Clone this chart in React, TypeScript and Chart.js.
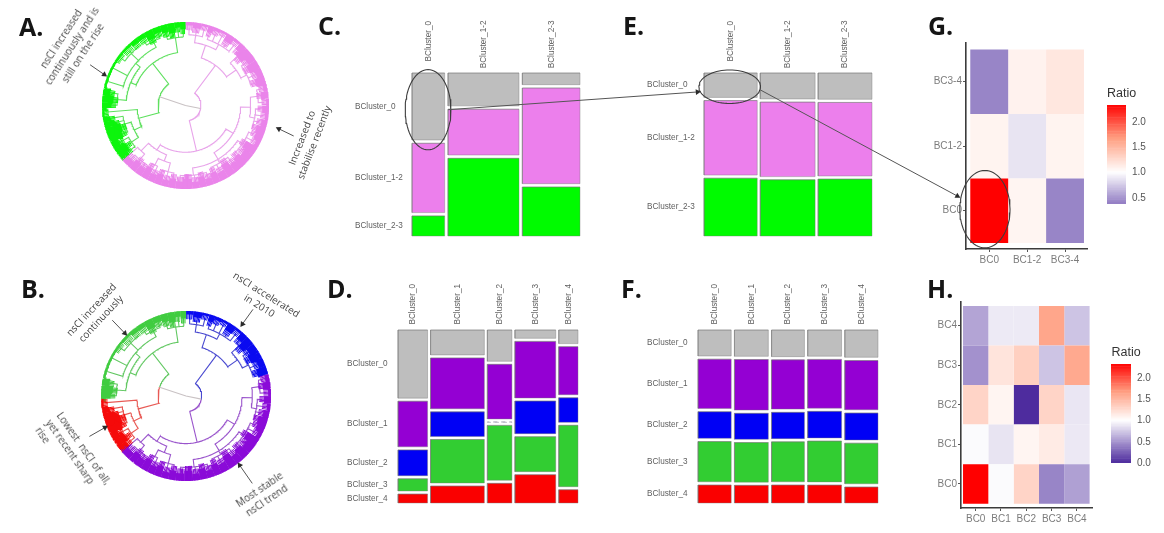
import React, { useEffect, useRef } from "react";
import { Chart, registerables } from "chart.js";

Chart.register(...registerables);

/* ---------- mosaic data (column widths, cell heights per column) ---------- */
const C_COLS = ["   BCluster_0", "BCluster_1-2", "BCluster_2-3"];
const C_ROWS = ["BCluster_0", "BCluster_1-2", "BCluster_2-3"];
const C_WIDTHS = [98, 213, 173];
const C_CELLS = [[200, 207, 60], [99, 138, 234], [35, 287, 147]];

const E_COLS = ["   BCluster_0", "BCluster_1-2", "BCluster_2-3"];
const E_ROWS = ["BCluster_0", "BCluster_1-2", "BCluster_2-3"];
const E_WIDTHS = [160, 165, 162];
const E_CELLS = [[73, 223, 173], [78, 224, 169], [79, 221, 171]];

const D_COLS = ["BCluster_0", "BCluster_1", "BCluster_2", "BCluster_3", "BCluster_4"];
const D_ROWS = ["BCluster_0", "BCluster_1", "BCluster_2", "BCluster_3", "BCluster_4"];
const D_WIDTHS = [89, 162, 74, 123, 58];
const D_CELLS = [
  [206, 138, 78, 37, 27],
  [75, 153, 74, 131, 51],
  [94, 164, 1, 165, 59],
  [25, 170, 98, 105, 85],
  [41, 145, 74, 185, 40],
];

const F_COLS = ["BCluster_0", "BCluster_1", "BCluster_2", "BCluster_3", "BCluster_4"];
const F_ROWS = ["BCluster_0", "BCluster_1", "BCluster_2", "BCluster_3", "BCluster_4"];
const F_WIDTHS = [100, 102, 99, 102, 100];
const F_CELLS = [
  [78, 148, 80, 121, 54],
  [79, 152, 78, 119, 53],
  [80, 148, 79, 120, 54],
  [79, 147, 80, 123, 54],
  [82, 148, 81, 122, 48],
];

const THREE_COLOURS = ["#bebebe", "#ec7fec", "#00fb00"];
const FIVE_COLOURS = ["#bebebe", "#9400d3", "#0000f5", "#32cd32", "#fa0000"];

/* ---------- heatmap data, rows listed bottom to top ---------- */
const G_LABELS = ["BC0", "BC1-2", "BC3-4"];
const G_RATIOS = [
  [2.4, 1.07, 0.42],
  [1.08, 0.87, 1.08],
  [0.42, 1.09, 1.17],
];
const H_LABELS = ["BC0", "BC1", "BC2", "BC3", "BC4"];
const H_RATIOS = [
  [2.4, 0.98, 1.3, 0.42, 0.55],
  [0.98, 0.87, 1.07, 1.14, 0.89],
  [1.3, 1.07, 0.0, 1.3, 0.88],
  [0.48, 1.19, 1.33, 0.72, 1.6],
  [0.57, 0.9, 0.9, 1.62, 0.72],
];
const G_LEGEND_TICKS = [0.5, 1, 1.5, 2];
const H_LEGEND_TICKS = [0, 0.5, 1, 1.5, 2];

/* ---------- dendrogram: node = [radius, child, ...], tip group = [radius, fromAngle, toAngle] ---------- */
type Tree = any[];
const TREE_UPPER_RIGHT: Tree = [150,
  [190,
    [212, [232, 0.5, 5], [225, 5.5, 11], [236, 11.5, 16]],
    [208, [222, 16.5, 20], [232, 20.5, 25], [238, 25.5, 30], [218, 30.5, 36], [234, 36.5, 41]]],
  [185,
    [215, [226, 41.5, 46], [212, 46.5, 52]],
    [205, [224, 52.5, 57], [215, 57.5, 63], [230, 63.5, 69], [220, 69.5, 75]]]];
const TREE_LOWER_RIGHT: Tree = [140,
  [165,
    [195,
      [218, [232, 75.5, 80], [222, 80.5, 85], [236, 85.5, 90]],
      [210, [224, 90.5, 95], [234, 95.5, 100], [226, 100.5, 105], [216, 105.5, 110]]],
    [188,
      [205, [220, 110.5, 115], [230, 115.5, 120], [214, 120.5, 126], [226, 126.5, 132], [218, 132.5, 138]],
      [200, [226, 138.5, 143], [212, 143.5, 149], [228, 149.5, 155], [220, 155.5, 160]],
      [210, [232, 160.5, 165], [222, 165.5, 170], [234, 170.5, 175], [224, 175.5, 181], [232, 181.5, 187]]]],
  [158,
    [178,
      [205, [226, 187.5, 192], [234, 192.5, 197], [222, 197.5, 202]],
      [200, [230, 202.5, 207], [218, 207.5, 212]]],
    [190,
      [212, [228, 212.5, 217], [222, 217.5, 222], [232, 222.5, 228.5]],
      [232, 228.6, 229]]]];
const TREE_LEFT_LOW: Tree = [145,
  [170,
    [195, [226, 229, 233], [216, 233.5, 238], [230, 238.5, 243]],
    [190, [212, 243.5, 248], [206, 248.5, 254], [222, 254.5, 258], [232, 258.5, 262]]],
  [235, 262.5, 268]];
const TREE_LEFT_UP: Tree = [160,
  [178,
    [205, [226, 268.5, 272], [220, 272.5, 277], [232, 277.5, 282]],
    [195,
      [243, 282.5, 292],
      [243, 292.5, 302],
      [225, [240, 302.5, 310], [234, 310.5, 318], [228, 318.5, 324]],
      [215, [228, 324.5, 330], [222, 330.5, 336], [232, 336.5, 342]]]],
  [205, [226, 342.5, 347], [220, 347.5, 352], [234, 352.5, 356], [228, 356.5, 360]]];
const TREE_RIGHT: Tree = [46, TREE_UPPER_RIGHT, TREE_LOWER_RIGHT];
const TREE_LEFT: Tree = [82, TREE_LEFT_LOW, TREE_LEFT_UP];
const TREE_ROOT: Tree = [0, TREE_RIGHT, TREE_LEFT];

/* how far the solid rim of the tips reaches inward, by start angle */
const RIM_ZONES = [
  [0, 40, 6], [40, 75, 14], [75, 120, 8], [120, 230, 18], [230, 262, 18],
  [262, 268, 4], [268, 282, 18], [282, 302, 0], [302, 325, 6], [325, 360, 14],
];

const ROOT_LINE = "#c9c2c4";
const CLADES_A = new Map<Tree, { line: string; ring: string }>([
  [TREE_UPPER_RIGHT, { line: "#e8a4ea", ring: "#ea84ea" }],
  [TREE_LOWER_RIGHT, { line: "#e8a4ea", ring: "#ea84ea" }],
  [TREE_LEFT_LOW, { line: "#5fe05f", ring: "#0cf50c" }],
  [TREE_LEFT_UP, { line: "#5fe05f", ring: "#0cf50c" }],
]);
const CLADES_B = new Map<Tree, { line: string; ring: string }>([
  [TREE_UPPER_RIGHT, { line: "#4a4ad0", ring: "#0a0af0" }],
  [TREE_LOWER_RIGHT, { line: "#9a55cc", ring: "#8a0ad8" }],
  [TREE_LEFT_LOW, { line: "#e85a55", ring: "#f50a0a" }],
  [TREE_LEFT_UP, { line: "#62c862", ring: "#40cc40" }],
]);

/* ---------- helpers ---------- */
type Rect = { l: number; t: number; r: number; b: number };
type Spec = { id: string; plot: Rect; margin: Rect; datasets: any[]; scales: any; padding: any };

const rectPoints = (x0: number, x1: number, y0: number, y1: number) => [
  { x: x0, y: y0 }, { x: x0, y: y1 }, { x: x1, y: y1 }, { x: x1, y: y0 }, { x: x0, y: y0 }, { x: x1, y: y0 },
];
const cellSet = (pts: any[], fill: string, border = "transparent", width = 0, dash: number[] = []) => ({
  data: pts, showLine: true, pointRadius: 0, fill: "shape", backgroundColor: fill,
  borderColor: border, borderWidth: width, borderDash: dash, tension: 0, clip: false,
});

const mix = (a: number[], b: number[], t: number) => a.map((v, i) => Math.round(v + (b[i] - v) * t));
function ratioColour(v: number) {
  const low = [78, 44, 158], mid = [255, 255, 255], warm = [255, 158, 129], high = [255, 0, 0];
  let c: number[];
  if (v <= 1) c = mix(mid, low, 1 - v);
  else {
    const t = Math.min(1, (v - 1) / 1.35);
    c = t < 0.5 ? mix(mid, warm, t * 2) : mix(warm, high, (t - 0.5) * 2);
  }
  return `rgb(${c[0]},${c[1]},${c[2]})`;
}

function axisTicks(values: number[], labels: string[], ticks: any, width?: number, height?: number) {
  return {
    afterBuildTicks: (s: any) => { s.ticks = values.map((value) => ({ value })); },
    afterFit: (s: any) => {
      if (width !== undefined) s.width = width;
      if (height !== undefined) s.height = height;
    },
    ticks: { autoSkip: false, callback: (_v: any, i: number) => labels[i], ...ticks },
  };
}

function mosaic(id: string, plot: Rect, margin: Rect, cols: string[], rows: string[], widths: number[],
  cells: number[][], colours: string[], gapX: number, gapYz: number, heightZ: number, xPad: number) {
  const total = widths.reduce((a, b) => a + b, 0) + gapX * (widths.length - 1);
  const gapY = gapYz / heightZ;
  const datasets: any[] = [];
  const xCentres: number[] = [];
  const yCentres: number[] = [];
  let x = 0;
  cells.forEach((col, ci) => {
    const sum = col.reduce((a, b) => a + b, 0);
    const usable = 1 - gapY * (col.length - 1);
    let y = 0;
    col.forEach((h, ri) => {
      const hh = (h / sum) * usable;
      const tiny = h <= 2;
      datasets.push(cellSet(rectPoints(x, x + widths[ci], y, y + hh), tiny ? "transparent" : colours[ri],
        tiny ? "#b9b9c6" : "rgba(120,120,120,0.45)", 0.9, tiny ? [4, 4] : []));
      if (ci === 0) yCentres.push(y + hh / 2);
      y += hh + gapY;
    });
    xCentres.push(x + widths[ci] / 2);
    x += widths[ci] + gapX;
  });
  const font = { family: "'Liberation Sans'", size: 8.2 };
  return {
    id, plot, margin, datasets,
    padding: { left: 2, top: 2, right: margin.r, bottom: margin.b },
    scales: {
      x: {
        type: "linear", position: "top", min: 0, max: total,
        grid: { display: false, drawTicks: false }, border: { display: false },
        ...axisTicks(xCentres, cols, { maxRotation: 90, minRotation: 90, padding: xPad, labelOffset: 10, color: "#5f5f5f", font }, undefined, margin.t - 2),
      },
      y: {
        type: "linear", reverse: true, min: 0, max: 1,
        grid: { display: false, drawTicks: false }, border: { display: false },
        ...axisTicks(yCentres, rows, { crossAlign: "far", padding: 0, color: "#5f5f5f", font }, margin.l - 2),
      },
    },
  } as Spec;
}

function heatmap(id: string, plot: Rect, margin: Rect, labels: string[], ratios: number[][], lo: number[], hi: number[]) {
  const datasets: any[] = [];
  ratios.forEach((row, r) => row.forEach((v, c) => {
    datasets.push(cellSet(rectPoints(c + 0.5, c + 1.5, r + 0.5, r + 1.5), ratioColour(v)));
  }));
  const pos = labels.map((_, i) => i + 1);
  const font = { family: "'Liberation Sans'", size: 10 };
  const common = {
    grid: { display: true, drawOnChartArea: false, drawTicks: true, tickLength: 3, color: "#555" },
    border: { display: true, color: "#3c3c3c", width: 1.6 },
  };
  return {
    id, plot, margin, datasets,
    padding: { left: 2, top: margin.t, right: margin.r, bottom: 2 },
    scales: {
      x: { type: "linear", min: lo[0], max: hi[0], ...common,
        ...axisTicks(pos, labels, { maxRotation: 0, minRotation: 0, padding: 2, color: "#7c7c7c", font }, undefined, margin.b - 2) },
      y: { type: "linear", min: lo[1], max: hi[1], ...common,
        ...axisTicks(pos, labels, { padding: 1, color: "#7c7c7c", font }, margin.l - 2) },
    },
  } as Spec;
}

function colourBar(id: string, plot: Rect, margin: Rect, lo: number, hi: number, ticks: number[]) {
  const datasets: any[] = [];
  const steps = 70;
  for (let i = 0; i < steps; i++) {
    const a = lo + ((hi - lo) * i) / steps;
    const b = lo + ((hi - lo) * (i + 1.4)) / steps;
    datasets.push(cellSet(rectPoints(0, 1, a, Math.min(b, hi)), ratioColour((a + b) / 2)));
  }
  return {
    id, plot, margin, datasets,
    padding: { left: margin.l, top: margin.t, right: 2, bottom: margin.b },
    scales: {
      x: { type: "linear", min: 0, max: 1, display: false },
      y: {
        type: "linear", position: "right", min: lo, max: hi,
        grid: { display: false, drawTicks: false }, border: { display: false },
        ...axisTicks(ticks, ticks.map((t) => t.toFixed(1)),
          { padding: 6, color: "#555", font: { family: "'Liberation Sans'", size: 10 } }, margin.r - 2),
      },
    },
  } as Spec;
}

const isTip = (n: Tree) => typeof n[1] === "number";
const angleOf = (n: Tree): number =>
  isTip(n) ? (n[1] + n[2]) / 2 : (angleOf(n[1]) + angleOf(n[n.length - 1])) / 2;
const polar = (r: number, deg: number) => {
  const a = (deg * Math.PI) / 180;
  return { x: r * Math.sin(a), y: r * Math.cos(a) };
};
const arcPoints = (r: number, a: number, b: number) => {
  const n = Math.max(1, Math.ceil(Math.abs(b - a)));
  const pts = [];
  for (let i = 0; i <= n; i++) pts.push(polar(r, a + ((b - a) * i) / n));
  return pts;
};

function dendrogram(id: string, plot: Rect, cx: number, cy: number, radiusPx: number, clades: Map<Tree, any>) {
  const OUTER = 250;
  const unit = OUTER / radiusPx;
  const lines = new Map<string, any[]>();
  const combs = new Map<string, any[]>();
  const rings: any[] = [];
  const gap = { x: NaN, y: NaN };
  const band = (r0: number, a: number, b: number, colour: string) => rings.push({
    data: arcPoints((r0 + OUTER) / 2, a, b), showLine: true, pointRadius: 0, fill: false,
    borderColor: colour, borderWidth: (OUTER - r0) / unit, borderCapStyle: "butt", borderJoinStyle: "bevel", tension: 0, clip: false,
  });
  const walk = (pr: number, pa: number, node: Tree, c: { line: string; ring: string }) => {
    const a = angleOf(node);
    const list = lines.get(c.line) || [];
    lines.set(c.line, list);
    if (pr > 0) list.push(...arcPoints(pr, pa, a));
    list.push(polar(pr, a), polar(node[0], a), gap);
    if (isTip(node)) {
      const comb = combs.get(c.ring) || [];
      combs.set(c.ring, comb);
      const zone = RIM_ZONES.find((z) => node[1] >= z[0] && node[1] < z[1]);
      const inner = node[0] - (zone ? zone[2] : 0);
      for (let t = node[1]; t <= node[2]; t += 0.95) comb.push(polar(inner, t), polar(OUTER, t), gap);
      band(Math.min(inner + 14, 243), node[1] - 0.3, node[2] + 0.3, c.ring);
    } else {
      node.slice(1).forEach((k: Tree) => walk(node[0], a, k, clades.get(k) || c));
    }
  };
  const grey = { line: ROOT_LINE, ring: ROOT_LINE };
  TREE_ROOT.slice(1).forEach((k: Tree) => walk(0, 0, k, grey));
  const makeSet = (colour: string, data: any[], width: number) => ({
    data, showLine: true, pointRadius: 0, fill: false, borderColor: colour, borderWidth: width,
    borderCapStyle: "butt", tension: 0, clip: false,
  });
  return {
    id, plot, margin: { l: 0, t: 0, r: 0, b: 0 },
    datasets: [
      ...[...combs.entries()].map(([colour, data]) => makeSet(colour, data, 1)),
      ...rings,
      ...[...lines.entries()].map(([colour, data]) => makeSet(colour, data, 1.1)),
    ],
    padding: 0,
    scales: {
      x: { type: "linear", display: false, min: (plot.l - cx) * unit, max: (plot.r - cx) * unit },
      y: { type: "linear", display: false, min: (cy - plot.b) * unit, max: (cy - plot.t) * unit },
    },
  } as Spec;
}

/* ---------- annotation overlay ---------- */
const ARROWS = [
  [86.7, 61.7, 101, 71.7], [291.7, 134, 276.7, 126.7],
  [109, 321, 121.7, 334.3], [250.7, 310, 240, 325],
  [86, 439, 101.7, 430], [250, 486.7, 237.3, 468.3],
  [447.3, 107.3, 698.3, 89.3], [761.7, 87.3, 960, 195],
];
const ELLIPSES = [
  [427, 107.3, 23, 40.7], [730.7, 84, 31, 17], [987.7, 208.3, 25.3, 39.3],
];

function overlay(): Spec {
  const datasets: any[] = [];
  ARROWS.forEach(([x0, y0, x1, y1]) => {
    const rot = (Math.atan2(x1 - x0, -(y1 - y0)) * 180) / Math.PI;
    datasets.push({
      data: [{ x: x0, y: y0 }, { x: x1, y: y1 }], showLine: true, fill: false, clip: false,
      borderColor: "#555", borderWidth: 1, tension: 0,
      pointStyle: "triangle", pointRadius: [0, 3.4], pointRotation: [0, rot],
      pointBackgroundColor: "#2a2a2a", pointBorderColor: "#2a2a2a", pointBorderWidth: 0,
    });
  });
  ELLIPSES.forEach(([cx, cy, rx, ry]) => {
    const pts = [];
    for (let i = 0; i <= 72; i++) {
      const a = (i * Math.PI) / 36;
      pts.push({ x: cx + rx * Math.cos(a), y: cy + ry * Math.sin(a) });
    }
    datasets.push({ data: pts, showLine: true, fill: false, clip: false, pointRadius: 0, borderColor: "#3d3d3d", borderWidth: 1.1, tension: 0 });
  });
  return {
    id: "overlay", plot: { l: 0, t: 0, r: 1164, b: 533 }, margin: { l: 0, t: 0, r: 0, b: 0 }, datasets, padding: 0,
    scales: {
      x: { type: "linear", display: false, min: 0, max: 1164 },
      y: { type: "linear", display: false, reverse: true, min: 0, max: 533 },
    },
  };
}

const SPECS: Spec[] = [
  dendrogram("A", { l: 96, t: 16, r: 276, b: 196 }, 185.5, 105.5, 83.5, CLADES_A),
  dendrogram("B", { l: 96, t: 305, r: 276, b: 487 }, 186, 396, 85, CLADES_B),
  mosaic("C", { l: 412, t: 73, r: 580, b: 236 }, { l: 59, t: 58, r: 15, b: 15 }, C_COLS, C_ROWS, C_WIDTHS, C_CELLS, THREE_COLOURS, 10, 10, 489, 4.7),
  mosaic("E", { l: 704, t: 73, r: 872, b: 236 }, { l: 59, t: 58, r: 15, b: 15 }, E_COLS, E_ROWS, E_WIDTHS, E_CELLS, THREE_COLOURS, 9, 9.5, 489, 4.7),
  mosaic("D", { l: 398, t: 330, r: 578, b: 503 }, { l: 53, t: 52, r: 15, b: 15 }, D_COLS, D_ROWS, D_WIDTHS, D_CELLS, FIVE_COLOURS, 9, 9.2, 521, 5.5),
  mosaic("F", { l: 698, t: 330, r: 878, b: 503 }, { l: 53, t: 52, r: 15, b: 15 }, F_COLS, F_ROWS, F_WIDTHS, F_CELLS, FIVE_COLOURS, 9.75, 9.7, 521, 5.5),
  heatmap("G", { l: 966, t: 43, r: 1087, b: 249 }, { l: 42, t: 15, r: 16, b: 22 }, G_LABELS, G_RATIOS, [0.387, 0.407], [3.58, 3.6]),
  heatmap("H", { l: 961, t: 302, r: 1092, b: 508 }, { l: 32, t: 15, r: 16, b: 22 }, H_LABELS, H_RATIOS, [0.42, 0.392], [5.595, 5.6]),
  colourBar("GL", { l: 1107, t: 105, r: 1126, b: 204 }, { l: 4, t: 12, r: 30, b: 12 }, 0.38, 2.337, G_LEGEND_TICKS),
  colourBar("HL", { l: 1111, t: 364, r: 1131, b: 463 }, { l: 4, t: 12, r: 30, b: 12 }, 0, 2.335, H_LEGEND_TICKS),
  overlay(),
];

/* ---------- text ---------- */
const PANEL_LETTERS = [
  ["A.", 19, 12], ["B.", 21, 274], ["C.", 318, 11], ["D.", 327, 274],
  ["E.", 623, 11], ["F.", 621, 274], ["G.", 928, 11], ["H.", 927, 274],
] as [string, number, number][];

const NOTES = [
  { text: "nsCI increased\ncontinuously and is\nstill on the rise", x: 72, y: 46, rot: -57, align: "center" },
  { text: "Increased to\nstabilise recently", x: 308, y: 140, rot: -69, align: "center" },
  { text: "nsCI increased\ncontinuously", x: 95.7, y: 314.3, rot: -47, align: "center" },
  { text: "nsCI accelerated\nin 2010", x: 263.3, y: 300, rot: 32, align: "center" },
  { text: "Lowest  nsCI of all,\nyet recent sharp\nrise", x: 73, y: 456, rot: 55, align: "left" },
  { text: "Most stable\nnsCI trend", x: 263.3, y: 495, rot: -34, align: "center" },
];
const LEGEND_TITLES = [["Ratio", 1107, 85], ["Ratio", 1111.5, 344]] as [string, number, number][];

export default function App() {
  const refs = useRef<Record<string, HTMLCanvasElement | null>>({});
  useEffect(() => {
    const charts = SPECS.map((s) => new Chart(refs.current[s.id] as HTMLCanvasElement, {
      type: "line",
      data: { datasets: s.datasets },
      options: {
        animation: false, responsive: false, maintainAspectRatio: false, events: [],
        layout: { padding: s.padding },
        plugins: { legend: { display: false }, title: { display: false }, tooltip: { enabled: false } },
        scales: s.scales,
      },
    } as any));
    return () => charts.forEach((c) => c.destroy());
  }, []);
  return (
    <div style={{ position: "absolute", left: 0, top: 0, width: 1164, height: 533, overflow: "hidden", background: "#fff" }}>
      {SPECS.map((s) => (
        <canvas
          key={s.id}
          ref={(el) => { refs.current[s.id] = el; }}
          width={s.plot.r - s.plot.l + s.margin.l + s.margin.r}
          height={s.plot.b - s.plot.t + s.margin.t + s.margin.b}
          style={{ position: "absolute", left: s.plot.l - s.margin.l, top: s.plot.t - s.margin.t, pointerEvents: "none" }}
        />
      ))}
      {PANEL_LETTERS.map(([t, x, y]) => (
        <div key={t} style={{ position: "absolute", left: x, top: y, font: "bold 25px/28px 'Open Sans'", color: "#151515" }}>{t}</div>
      ))}
      {NOTES.map((n) => (
        <div key={n.text} style={{
          position: "absolute", left: n.x, top: n.y, transform: `translate(-50%,-50%) rotate(${n.rot}deg)`,
          font: "10px/13px 'Open Sans'", color: "#444", whiteSpace: "pre", textAlign: n.align as any,
        }}>{n.text}</div>
      ))}
      {LEGEND_TITLES.map(([t, x, y], i) => (
        <div key={i} style={{ position: "absolute", left: x, top: y, font: "12.5px/16px 'Liberation Sans'", color: "#333" }}>{t}</div>
      ))}
    </div>
  );
}
